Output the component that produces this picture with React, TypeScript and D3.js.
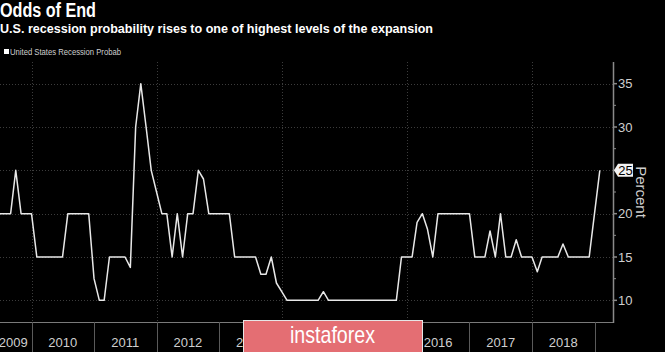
import React, { useEffect, useRef } from 'react';
import * as d3 from 'd3';

// monthly survey readings, Jul 2009 .. Feb 2019
const months = [
  '2009-07', '2009-08', '2009-09', '2009-10', '2009-11', '2009-12',
  '2010-01', '2010-02', '2010-03', '2010-04', '2010-05', '2010-06', '2010-07', '2010-08', '2010-09', '2010-10', '2010-11', '2010-12',
  '2011-01', '2011-02', '2011-03', '2011-04', '2011-05', '2011-06', '2011-07', '2011-08', '2011-09', '2011-10', '2011-11', '2011-12',
  '2012-01', '2012-02', '2012-03', '2012-04', '2012-05', '2012-06', '2012-07', '2012-08', '2012-09', '2012-10', '2012-11', '2012-12',
  '2013-01', '2013-02', '2013-03', '2013-04', '2013-05', '2013-06', '2013-07', '2013-08', '2013-09', '2013-10', '2013-11', '2013-12',
  '2014-01', '2014-02', '2014-03', '2014-04', '2014-05', '2014-06', '2014-07', '2014-08', '2014-09', '2014-10', '2014-11', '2014-12',
  '2015-01', '2015-02', '2015-03', '2015-04', '2015-05', '2015-06', '2015-07', '2015-08', '2015-09', '2015-10', '2015-11', '2015-12',
  '2016-01', '2016-02', '2016-03', '2016-04', '2016-05', '2016-06', '2016-07', '2016-08', '2016-09', '2016-10', '2016-11', '2016-12',
  '2017-01', '2017-02', '2017-03', '2017-04', '2017-05', '2017-06', '2017-07', '2017-08', '2017-09', '2017-10', '2017-11', '2017-12',
  '2018-01', '2018-02', '2018-03', '2018-04', '2018-05', '2018-06', '2018-07', '2018-08', '2018-09', '2018-10', '2018-11', '2018-12',
  '2019-01', '2019-02',
];

const probability = [
  20, 20, 20, 25, 20, 20,
  20, 15, 15, 15, 15, 15, 15, 20, 20, 20, 20, 20,
  12.5, 10, 10, 15, 15, 15, 15, 13.8, 30, 35, 30, 25,
  22.5, 20, 20, 15, 20, 15, 20, 20, 25, 24, 20, 20,
  20, 20, 20, 15, 15, 15, 15, 15, 13, 13, 15, 12,
  11, 10, 10, 10, 10, 10, 10, 10, 11, 10, 10, 10,
  10, 10, 10, 10, 10, 10, 10, 10, 10, 10, 10, 15,
  15, 15, 19, 20, 18.2, 15, 20, 20, 20, 20, 20, 20,
  20, 15, 15, 15, 18, 15, 20, 15, 15, 17, 15, 15,
  15, 13.3, 15, 15, 15, 15, 16.5, 15, 15, 15, 15, 15,
  20, 25,
];

const yTicks = [10, 15, 20, 25, 30, 35];
const minorTicks = [12.5, 17.5, 22.5, 27.5, 32.5];
const years = [2009, 2010, 2011, 2012, 2013, 2014, 2015, 2016, 2017, 2018];
const gridYears = [2010, 2012, 2014, 2016, 2018];

const title = 'Odds of End';
const subtitle = 'U.S. recession probability rises to one of highest levels of the expansion';
const legendLabel = 'United States Recession Probab';

const FONT = "'Liberation Sans Narrow', 'Liberation Sans', Arial, sans-serif";

export default function App() {
  const ref = useRef<SVGSVGElement>(null);

  useEffect(() => {
    if (!ref.current) return;
    const W = 665;
    const H = 352;
    const left = 0;
    const right = 613;
    const top = 62;
    const bottom = 322;

    const svg = d3.select(ref.current);
    svg.selectAll('*').remove();

    svg.append('rect').attr('width', W).attr('height', H).attr('fill', '#000');

    const parse = d3.utcParse('%Y-%m');
    const data = months.map((m, i) => ({ date: parse(m) as Date, value: probability[i] }));

    const x = d3.scaleUtc()
      .domain([Date.UTC(2009, 6, 1), Date.UTC(2019, 3, 19)])
      .range([left, right]);
    const y = d3.scaleLinear().domain([7.5, 37.5]).range([bottom, top]);

    // titles
    svg.append('text')
      .attr('x', 0).attr('y', 17)
      .attr('fill', '#fff').attr('font-family', FONT)
      .attr('font-weight', 700).attr('font-size', 20)
      .attr('textLength', 96).attr('lengthAdjust', 'spacingAndGlyphs')
      .text(title);
    svg.append('text')
      .attr('x', 0).attr('y', 33)
      .attr('fill', '#fff').attr('font-family', FONT)
      .attr('font-weight', 700).attr('font-size', 13.5)
      .attr('textLength', 433).attr('lengthAdjust', 'spacingAndGlyphs')
      .text(subtitle);

    // legend
    svg.append('rect').attr('x', 4).attr('y', 49).attr('width', 5).attr('height', 5).attr('fill', '#fff');
    svg.append('text')
      .attr('x', 10).attr('y', 55)
      .attr('fill', '#cfcfcf').attr('font-family', FONT).attr('font-size', 9.5)
      .attr('textLength', 111).attr('lengthAdjust', 'spacingAndGlyphs')
      .text(legendLabel);

    // grid
    const grid = svg.append('g')
      .attr('stroke', '#3c3c3c').attr('stroke-width', 1).attr('stroke-dasharray', '1,2');
    grid.selectAll('line.h')
      .data(yTicks)
      .enter().append('line')
      .attr('x1', left).attr('x2', right)
      .attr('y1', d => Math.round(y(d)) + 0.5).attr('y2', d => Math.round(y(d)) + 0.5);
    grid.selectAll('line.v')
      .data(gridYears)
      .enter().append('line')
      .attr('x1', d => Math.round(x(Date.UTC(d, 0, 1))) + 0.5)
      .attr('x2', d => Math.round(x(Date.UTC(d, 0, 1))) + 0.5)
      .attr('y1', top).attr('y2', bottom);

    // x axis
    svg.append('line')
      .attr('x1', left).attr('x2', right)
      .attr('y1', bottom + 0.5).attr('y2', bottom + 0.5)
      .attr('stroke', '#7a7a7a').attr('stroke-width', 1);
    const sepYears = years.slice(1).concat([2019]);
    svg.selectAll('line.sep')
      .data(sepYears)
      .enter().append('line')
      .attr('x1', d => Math.round(x(Date.UTC(d, 0, 1))) + 0.5)
      .attr('x2', d => Math.round(x(Date.UTC(d, 0, 1))) + 0.5)
      .attr('y1', bottom).attr('y2', H)
      .attr('stroke', '#5a5a5a').attr('stroke-width', 1);
    svg.selectAll('text.year')
      .data(years)
      .enter().append('text')
      .attr('x', d => {
        const a = Math.max(x(Date.UTC(d, 0, 1)), left - 5);
        const b = x(Date.UTC(d + 1, 0, 1));
        return (a + b) / 2;
      })
      .attr('y', 347)
      .attr('text-anchor', 'middle')
      .attr('fill', '#cfcfcf').attr('font-family', FONT).attr('font-size', 13)
      .text(d => d);

    // y axis
    svg.append('line')
      .attr('x1', right + 0.5).attr('x2', right + 0.5)
      .attr('y1', top).attr('y2', bottom + 1)
      .attr('stroke', '#8a8a8a').attr('stroke-width', 1.5);
    svg.selectAll('line.ytick')
      .data(yTicks)
      .enter().append('line')
      .attr('x1', right).attr('x2', right + 4)
      .attr('y1', d => y(d)).attr('y2', d => y(d))
      .attr('stroke', '#8a8a8a').attr('stroke-width', 1.5);
    svg.selectAll('line.ymin')
      .data(minorTicks)
      .enter().append('line')
      .attr('x1', right).attr('x2', right + 3)
      .attr('y1', d => y(d)).attr('y2', d => y(d))
      .attr('stroke', '#8a8a8a').attr('stroke-width', 1);
    const last = data[data.length - 1];
    svg.selectAll('text.ylab')
      .data(yTicks.filter(t => t !== last.value))
      .enter().append('text')
      .attr('x', right + 5)
      .attr('y', d => y(d))
      .attr('dy', '0.35em')
      .attr('fill', '#cfcfcf').attr('font-family', FONT).attr('font-size', 13)
      .text(d => d);

    svg.append('text')
      .attr('transform', `translate(${641},${192}) rotate(90)`)
      .attr('text-anchor', 'middle')
      .attr('dy', '0.35em')
      .attr('fill', '#cfcfcf').attr('font-family', FONT).attr('font-size', 15)
      .text('Percent');

    // series
    const line = d3.line<{ date: Date; value: number }>()
      .x(d => x(d.date))
      .y(d => y(d.value));
    svg.append('path')
      .datum(data)
      .attr('d', line)
      .attr('fill', 'none')
      .attr('stroke', '#e8e8e8')
      .attr('stroke-width', 1.5)
      .attr('stroke-linejoin', 'round');

    // last value tag
    const ly = y(last.value);
    const tag = svg.append('g');
    tag.append('path')
      .attr('d', `M${right + 1},${ly} L${right + 5},${ly - 6.5} L${right + 20},${ly - 6.5} L${right + 20},${ly + 6.5} L${right + 5},${ly + 6.5} Z`)
      .attr('fill', '#f2f2f2');
    tag.append('text')
      .attr('x', right + 12.5).attr('y', ly)
      .attr('dy', '0.35em')
      .attr('text-anchor', 'middle')
      .attr('fill', '#000').attr('font-family', FONT).attr('font-size', 13)
      .text(last.value);

    // watermark
    svg.append('rect')
      .attr('x', 243.5).attr('y', 320.5).attr('width', 179).attr('height', 33)
      .attr('fill', '#e46e73').attr('stroke', '#e6e6e6').attr('stroke-width', 1);
    svg.append('text')
      .attr('x', 332.5).attr('y', 343)
      .attr('text-anchor', 'middle')
      .attr('fill', '#fff').attr('font-family', FONT).attr('font-size', 24)
      .attr('textLength', 85).attr('lengthAdjust', 'spacingAndGlyphs')
      .text('instaforex');
  }, []);

  return (
    <svg
      ref={ref}
      width={665}
      height={352}
      style={{ position: 'absolute', left: 0, top: 0, display: 'block' }}
    />
  );
}
